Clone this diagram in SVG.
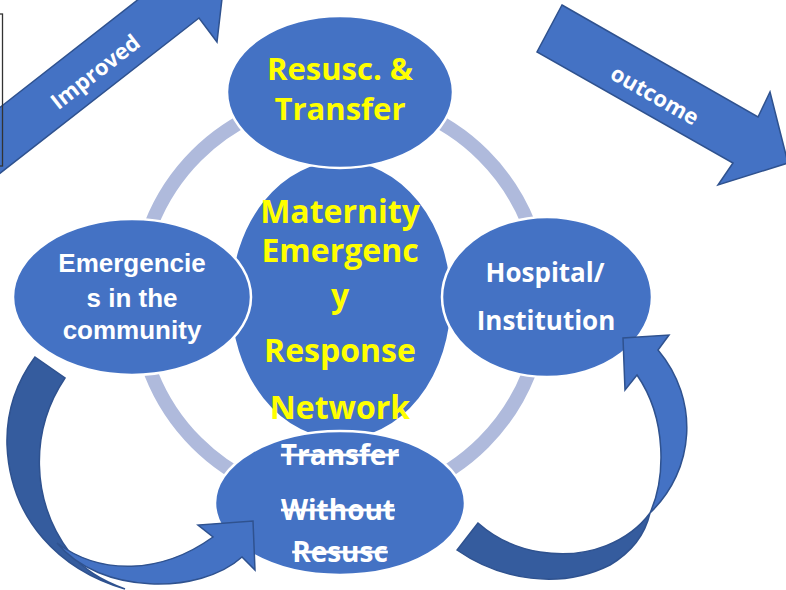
<svg xmlns="http://www.w3.org/2000/svg" width="786" height="590" viewBox="0 0 786 590">
<style>
.node{fill:#4472C4;stroke:#FFFFFF;stroke-width:2.5}
.blk{fill:#4472C4;stroke:#2F528F;stroke-width:1.5;stroke-linejoin:miter}
.dark{fill:#355C9E;stroke:#2F528F;stroke-width:1.5}
.t{font-family:"Open Sans","Liberation Sans",sans-serif;font-weight:700;text-anchor:middle}
.l{font-family:"Liberation Sans","Open Sans",sans-serif}
.y{fill:#FFFF00}
.w{fill:#FFFFFF}
.s{text-decoration:line-through}
</style>
<rect width="786" height="590" fill="#FFFFFF"/>
<g id="ring">
<circle cx="340" cy="299" r="203" fill="none" stroke="#AFBADC" stroke-width="14"/>
</g>
<g id="arrow-improved">
<polygon class="blk" points="-6,178 199,18 217,42 226,-36 148.5,-46.6 167,-23 -38,137"/>
<text class="t w" font-size="22" transform="translate(100,78) rotate(-38)">Improved</text>
</g>
<g id="frame">
<rect x="-10" y="14" width="12.5" height="152" fill="none" stroke="#333333" stroke-width="1.3"/>
</g>
<g id="arrow-outcome">
<polygon class="blk" points="562,5 758,117 770,92 788,163 718,185 733,163 537,52"/>
<text class="t w" font-size="22" transform="translate(651,102) rotate(29.6)">outcome</text>
</g>
<g id="center">
<ellipse class="node" cx="341" cy="300" rx="111" ry="140"/>
</g>
<g id="top">
<ellipse class="node" cx="340" cy="92" rx="113" ry="76"/>
<text class="t y" font-size="31" x="340" y="80">Resusc. &amp;</text>
<text class="t y" font-size="31" x="340" y="120">Transfer</text>
</g>
<g id="left">
<ellipse class="node" cx="132" cy="297" rx="119" ry="78"/>
<text class="t l w" font-size="26" x="132" y="272">Emergencie</text>
<text class="t l w" font-size="26" x="132" y="307">s in the</text>
<text class="t l w" font-size="26" x="132" y="339">community</text>
</g>
<g id="right">
<ellipse class="node" cx="547" cy="297" rx="105" ry="80"/>
<text class="t w" font-size="26" x="545" y="282">Hospital/</text>
<text class="t w" font-size="26" x="546" y="330">Institution</text>
</g>
<g id="bottom">
<ellipse class="node" cx="340" cy="503" rx="125" ry="72"/>
<text class="t w s" font-size="28" x="340" y="465">Transfer</text>
<text class="t w s" font-size="28" x="338" y="520">Without</text>
<text class="t w s" font-size="28" x="340" y="562">Resusc</text>
</g>
<g id="center-label">
<text class="t y" font-size="32" x="340" y="223">Maternity</text>
<text class="t y" font-size="32" x="340" y="262">Emergenc</text>
<text class="t y" font-size="32" x="340" y="307">y</text>
<text class="t y" font-size="32" x="340" y="362">Response</text>
<text class="t y" font-size="32" x="340" y="419">Network</text>
</g>
<g id="connectors">
<path class="dark" d="M35,357 L65,378 C30,430 30,500 70,553 C85,570 100,580 125,589 C60,570 10,520 7,445 C6,410 18,380 35,357 Z"/>
<path class="blk" d="M57,543 C100,575 160,575 213,537 L198,525 L253,521 L255,570 L242,557 C200,595 100,595 57,543 Z"/>
<path class="dark" d="M478,523 L457,550 C500,580 560,590 610,565 C630,553 645,535 650,513 C630,540 590,560 540,552 C515,548 495,538 478,523 Z"/>
<path class="blk" d="M650,513 C665,480 668,420 637,375 L625,390 L623,338 L669,335 L658,350 C700,400 695,470 650,513 Z"/>
</g>
</svg>
